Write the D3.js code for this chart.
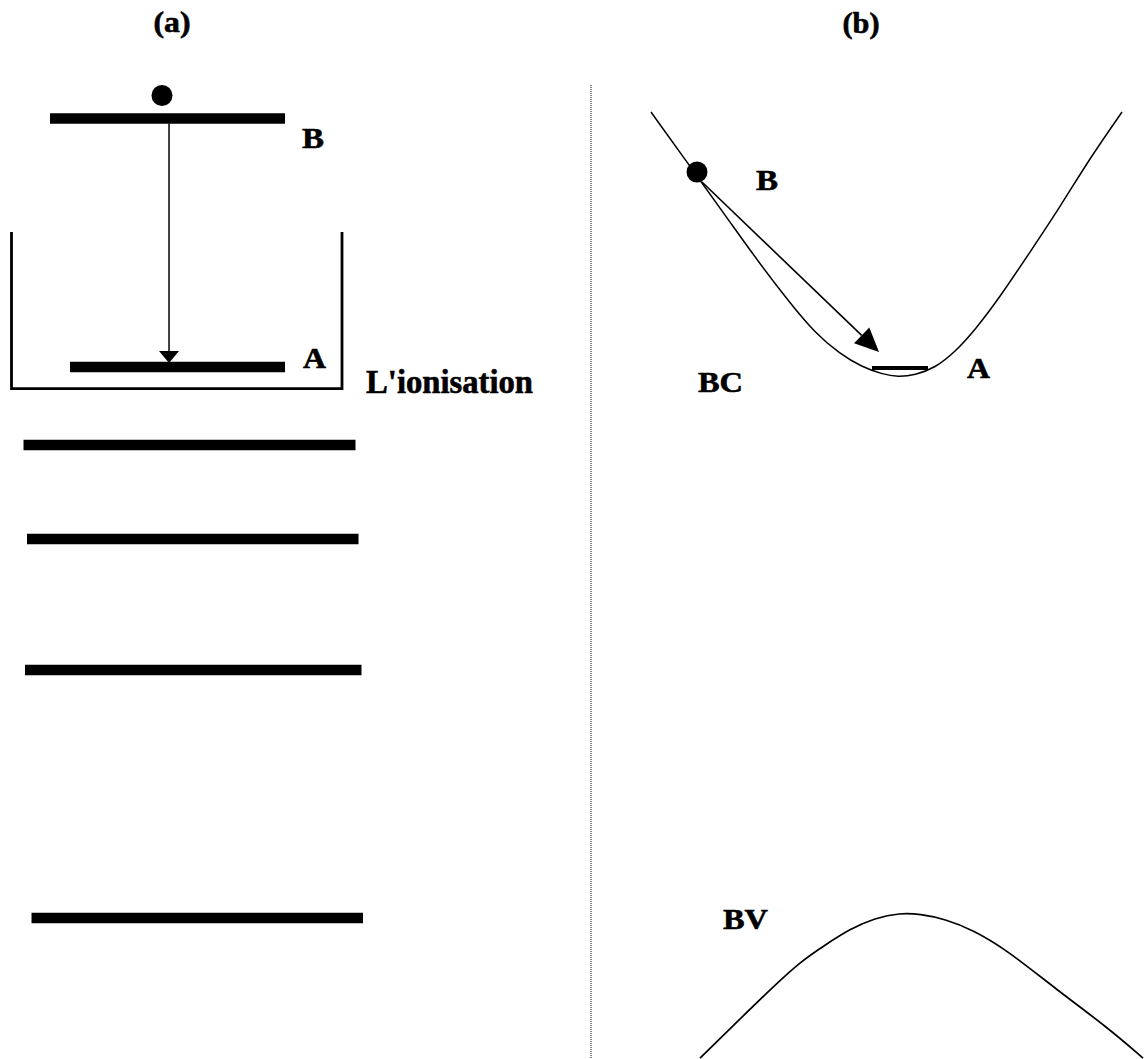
<!DOCTYPE html>
<html><head><meta charset="utf-8">
<script src="https://cdn.jsdelivr.net/npm/d3@7"></script>
<style>body{margin:0;background:#fff} svg{display:block}</style>
</head><body><div id="chart"></div>
<script>
const W = 1144, H = 1059;

// ---------- Panel (a): discrete energy levels ----------
const levelNamesA  = ["B", "A", "n1", "n2", "n3", "n4"];
const levelEnergyA = [88.81, 65.34, 57.98, 49.10, 36.73, 13.31];
const levelStartA  = [8.74, 12.24, 4.11, 4.72, 4.37, 5.51];
const levelEndA    = [49.83, 49.83, 62.15, 62.68, 63.20, 63.46];
const wellA        = [2.01, 59.79, 78.09, 63.31];   // left, right, top, bottom (ionisation box)
const electronA    = [28.32, 90.98];                // u, E
const transitionA  = [29.55, 88.81, 65.34];         // u, E from, E to

// ---------- Panel (b): bands vs k ----------
const bcK = [-0.988, -0.804, -0.672, -0.552, -0.432, -0.332, -0.232, -0.144, -0.064, 0.0, 0.068, 0.148, 0.228, 0.308, 0.408, 0.528, 0.648, 0.768, 0.896];
const bcE = [89.42, 83.38, 79.04, 75.07, 71.39, 68.56, 66.57, 65.34, 64.68, 64.40, 64.59, 65.25, 66.76, 68.84, 71.95, 76.20, 80.45, 85.08, 89.42];
const bvK = [-0.792, -0.632, -0.5, -0.392, -0.292, -0.192, -0.092, 0.008, 0.088, 0.188, 0.3, 0.436, 0.636, 0.836, 0.98];
const bvE = [0.09, 3.78, 6.80, 9.16, 10.76, 12.28, 13.31, 13.79, 13.69, 13.22, 12.18, 10.29, 6.52, 3.02, 0.09];
const electronB   = [-0.804, 83.76];
const transitionB = [-0.784, 82.81, -0.076, 66.76];  // k0, E0, k1, E1
const levelB      = [-0.104, 0.12, 65.25];           // k0, k1, E
const dividerB    = [-1.228, 91.97, 0];              // k, E top, E bottom

// ---------- Labels ----------
const labelTextA = ["(a)", "B", "A", "L'ionisation"];
const labelUA    = [30.07, 52.80, 52.97, 63.99];
const labelEA    = [96.98, 86.02, 65.25, 62.89];
const labelTextB = ["(b)", "B", "A", "BC", "BV"];
const labelKB    = [-0.148, -0.568, 0.276, -0.8, -0.7];
const labelEB    = [96.88, 82.06, 64.31, 62.98, 12.28];

// ---------- Scales ----------
const E  = d3.scaleLinear().domain([0, 100]).range([H, 0]);
const xa = d3.scaleLinear().domain([0, 100]).range([0, 572]);
const kb = d3.scaleLinear().domain([-1, 1]).range([648, 1148]);

const svg = d3.select("#chart").append("svg").attr("width", W).attr("height", H)
  .style("background", "#fff");

const FONT = "'Liberation Serif', 'Times New Roman', serif";

// ----- Panel (a) -----
const gA = svg.append("g");
const levels = levelNamesA.map((n, i) => ({n, e: levelEnergyA[i], s: levelStartA[i], t: levelEndA[i]}));
gA.selectAll("line.level").data(levels).join("line").attr("class", "level")
  .attr("x1", d => xa(d.s)).attr("x2", d => xa(d.t))
  .attr("y1", d => E(d.e)).attr("y2", d => E(d.e))
  .attr("stroke", "#000").attr("stroke-width", 10.5);

// ionisation well (open-top box)
const [wl, wr, wt, wb] = wellA;
gA.append("path")
  .attr("d", `M${xa(wl)},${E(wt)} L${xa(wl)},${E(wb)} L${xa(wr)},${E(wb)} L${xa(wr)},${E(wt)}`)
  .attr("fill", "none").attr("stroke", "#000").attr("stroke-width", 2.8);

gA.append("circle").attr("cx", xa(electronA[0])).attr("cy", E(electronA[1])).attr("r", 10.5).attr("fill", "#000");

// transition arrow (a)
{
  const x = xa(transitionA[0]);
  const y0 = E(transitionA[1]) + 5, y1 = E(transitionA[2]) - 5;
  gA.append("line").attr("x1", x).attr("x2", x).attr("y1", y0).attr("y2", y1 - 8)
    .attr("stroke", "#000").attr("stroke-width", 1.5);
  gA.append("path").attr("d", `M${x - 10},${y1 - 11} L${x + 10},${y1 - 11} L${x},${y1 + 1} Z`).attr("fill", "#000");
}

// ----- Panel (b) -----
const gB = svg.append("g");
gB.append("line")
  .attr("x1", kb(dividerB[0])).attr("x2", kb(dividerB[0]))
  .attr("y1", E(dividerB[1])).attr("y2", E(dividerB[2]))
  .attr("stroke", "#444").attr("stroke-width", 1.3).attr("stroke-dasharray", "1,1");

const line = d3.line().x(d => kb(d[0])).y(d => E(d[1])).curve(d3.curveBasis);
gB.append("path").datum(bcK.map((k, i) => [k, bcE[i]])).attr("d", line)
  .attr("fill", "none").attr("stroke", "#000").attr("stroke-width", 1.5);
gB.append("path").datum(bvK.map((k, i) => [k, bvE[i]])).attr("d", line)
  .attr("fill", "none").attr("stroke", "#000").attr("stroke-width", 1.7);

// level A on the band minimum
gB.append("line").attr("x1", kb(levelB[0])).attr("x2", kb(levelB[1]))
  .attr("y1", E(levelB[2])).attr("y2", E(levelB[2]))
  .attr("stroke", "#000").attr("stroke-width", 4);

gB.append("circle").attr("cx", kb(electronB[0])).attr("cy", E(electronB[1])).attr("r", 10.5).attr("fill", "#000");

// transition arrow (b)
{
  const x0 = kb(transitionB[0]), y0 = E(transitionB[1]);
  const x1 = kb(transitionB[2]), y1 = E(transitionB[3]);
  const ang = Math.atan2(y1 - y0, x1 - x0);
  const L = 24, hw = 11;
  const bx = x1 - L * Math.cos(ang), by = y1 - L * Math.sin(ang);
  gB.append("line").attr("x1", x0).attr("y1", y0).attr("x2", bx).attr("y2", by)
    .attr("stroke", "#000").attr("stroke-width", 1.6);
  const px = -Math.sin(ang), py = Math.cos(ang);
  gB.append("path")
    .attr("d", `M${x1},${y1} L${bx + hw * px},${by + hw * py} L${bx - hw * px},${by - hw * py} Z`)
    .attr("fill", "#000");
}

// ----- Labels -----
function labels(texts, xs, es, xScale, sizes, widths, anchors) {
  svg.append("g").selectAll("text").data(texts).join("text")
    .attr("x", (d, i) => xScale(xs[i])).attr("y", (d, i) => E(es[i]))
    .attr("text-anchor", (d, i) => anchors[i])
    .attr("font-family", FONT).attr("font-weight", "bold")
    .attr("font-size", (d, i) => sizes[i])
    .attr("stroke", "#000").attr("stroke-width", 0.6)
    .attr("textLength", (d, i) => widths[i]).attr("lengthAdjust", "spacingAndGlyphs")
    .text(d => d);
}
labels(labelTextA, labelUA, labelEA, xa, [29, 29, 29, 34], [37, 22, 23, 167], ["middle", "start", "start", "start"]);
labels(labelTextB, labelKB, labelEB, kb, [29, 29, 29, 29, 29], [37, 22, 23, 45, 45], ["middle", "start", "start", "start", "start"]);
</script>
</body></html>
